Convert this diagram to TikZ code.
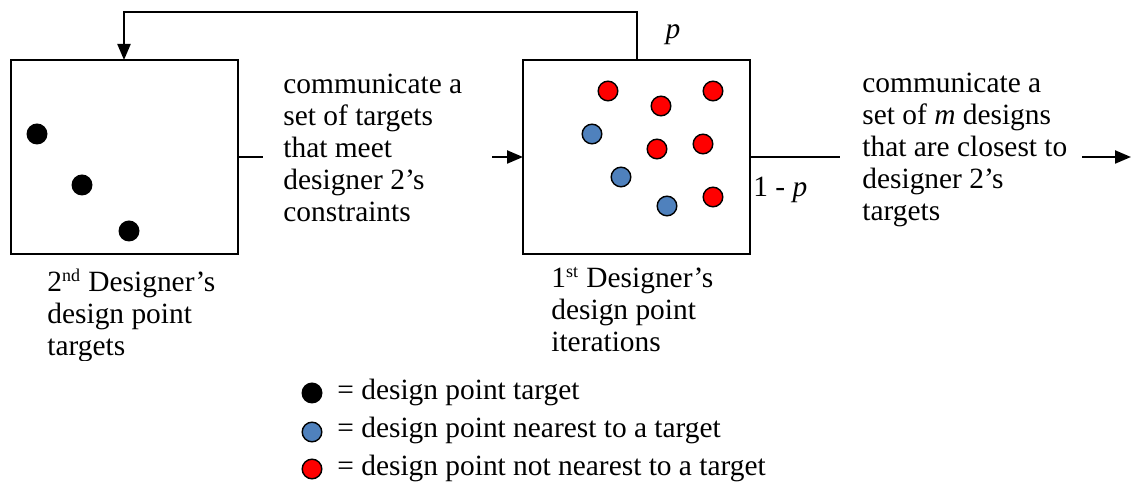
\documentclass[tikz,border=0pt]{standalone}
\usepackage{fontspec}
\setmainfont{Liberation Serif}
\usetikzlibrary{arrows.meta}
\definecolor{dotblue}{RGB}{79,129,189}
\definecolor{dotred}{RGB}{255,0,0}
\newcommand{\ordsup}[1]{\textsuperscript{\fontsize{9pt}{9pt}\selectfont #1}}

\begin{document}
\begin{tikzpicture}[x=0.5pt,y=-0.5pt,
  every node/.style={font=\fontsize{14.7pt}{16pt}\selectfont, inner sep=0pt},
  panel/.style={draw, line width=1.1pt, anchor=north west, outer sep=0pt,
    minimum width=113.5pt, minimum height=97pt},
  target/.style={circle, fill=black, minimum size=10.5pt},
  point/.style={circle, draw=black, line width=0.7pt, minimum size=9.8pt},
  nearest/.style={point, fill=dotblue},
  other/.style={point, fill=dotred},
  link/.style={line width=1.1pt},
  flow/.style={link, -{Triangle[length=8pt,width=6.5pt]}},
  txt/.style={anchor=base west}
]
\useasboundingbox (0,0) rectangle (1132,485);

% the two design panels
\node[panel] (lbox) at (11,60) {};
\node[panel] (rbox) at (523,60) {};

% targets held by the second designer
\node[target] (t1) at (37,134) {};
\node[target] (t2) at (82,185) {};
\node[target] (t3) at (129,231) {};

% design points iterated by the first designer
\node[other] (r1) at (608,91) {};
\node[other] (r2) at (661,106) {};
\node[other] (r3) at (713,91) {};
\node[other] (r4) at (657,149) {};
\node[other] (r5) at (703,144) {};
\node[other] (r6) at (713,197) {};
\node[nearest] (b1) at (592,134) {};
\node[nearest] (b2) at (621,177) {};
\node[nearest] (b3) at (667,206) {};

% connectors
\coordinate (lend) at (263,157);
\coordinate (rstart) at (492,157);
\coordinate (rend) at (840,157);
\coordinate (ostart) at (1082,157);
\coordinate (oend) at (1131,157);
\coordinate (fbup) at (637,60);
\coordinate (fbdown) at (124,60);

\draw[link] (lbox.east) -- (lend);
\draw[flow] (rstart) -- (rbox.west);
\draw[link] (rbox.east) -- (rend);
\draw[flow] (ostart) -- (oend);
\draw[flow] (fbup) -- ++(0,-48) -| (fbdown);

% branch probabilities
\node (plab) at (673,35) {\textit{p}};
\node[txt] (qlab) at (753,197) {1 - \textit{p}};

% messages passed between the designers
\node[txt] (msgl) at (283,94) {\parbox[t]{100pt}{\raggedright
  communicate a\\ set of targets\\ that meet\\ designer 2’s\\ constraints}};
\node[txt] (msgr) at (862,93) {\parbox[t]{120pt}{\raggedright
  communicate a\\ set of \textit{m} designs\\ that are closest to\\ designer 2’s\\ targets}};

% panel captions
\begin{scope}
  \clip (0,0) rectangle (1132,361);
  \node[txt] (capl) at (47,292) {\parbox[t]{110pt}{\raggedright
    2\ordsup{nd} Designer’s\\ design point\\ targets}};
\end{scope}
\node[txt] (capr) at (551,288) {\parbox[t]{110pt}{\raggedright
  1\ordsup{st} Designer’s\\ design point\\ iterations}};

% legend
\node[target] (k1) at (312,393) {};
\node[nearest] (k2) at (312,432) {};
\node[other] (k3) at (312,469) {};
\node[txt] (k1t) at (337,400) {= design point target};
\node[txt] (k2t) at (337,438) {= design point nearest to a target};
\node[txt] (k3t) at (337,476) {= design point not nearest to a target};
\end{tikzpicture}
\end{document}
